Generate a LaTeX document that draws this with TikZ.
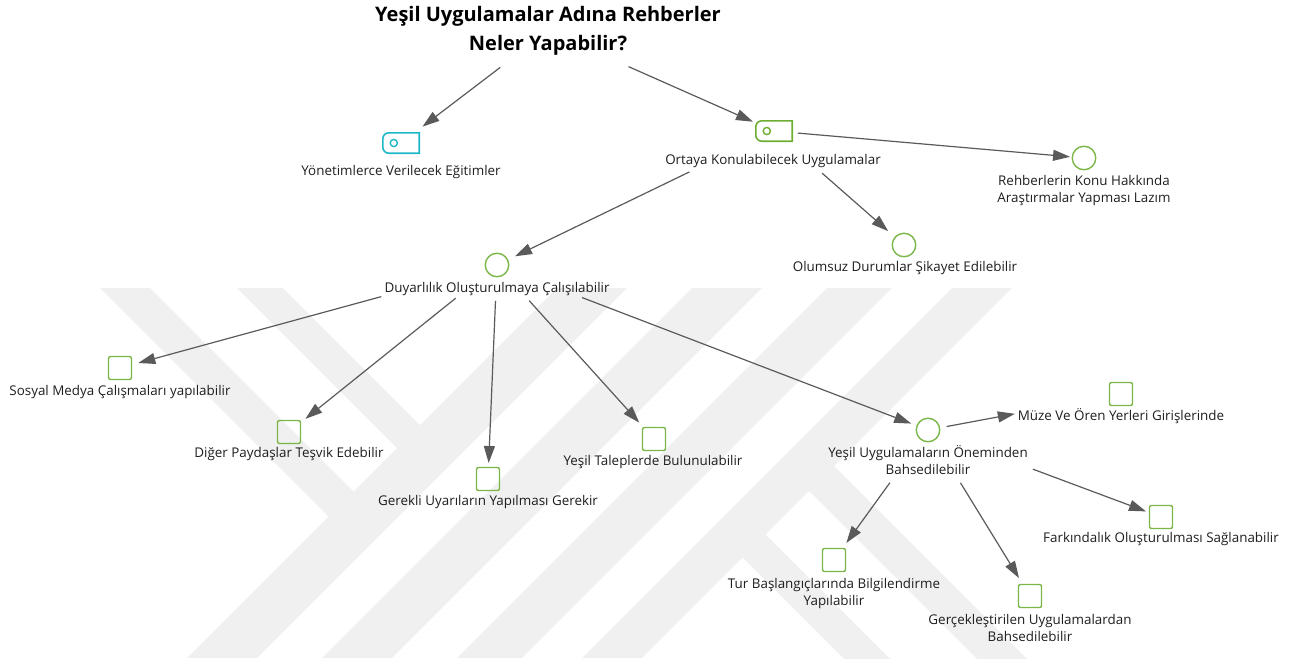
\documentclass[tikz,border=0pt]{standalone}
\usepackage{fontspec}
\setmainfont{Open Sans}
\usetikzlibrary{arrows.meta}
\definecolor{edgegrey}{HTML}{5A5A5A}
\definecolor{leafgreen}{HTML}{7AB648}
\definecolor{tagcyan}{HTML}{1DB7C7}
\definecolor{taggreen}{HTML}{6DAE33}
\definecolor{labeltext}{HTML}{1E1E1E}
\definecolor{wmgrey}{HTML}{F0F0F0}

\begin{document}
\begin{tikzpicture}[x=1pt,y=-1pt,
  lbl/.style={font=\fontsize{13.4}{17}\selectfont, align=center, inner sep=0pt, text=labeltext, anchor=base},
  heading/.style={font=\fontsize{20}{29}\selectfont\bfseries, align=center, inner sep=0pt, text=black},
  ring/.style={circle, draw=leafgreen, line width=1.4pt, minimum size=23.5pt, inner sep=0pt},
  leaf/.style={rectangle, rounded corners=2pt, draw=leafgreen, line width=1.4pt, minimum size=23pt, inner sep=0pt},
  tagbox/.style={rectangle, minimum width=36pt, minimum height=20pt, inner sep=0pt},
  arr/.style={draw=edgegrey, line width=1.2pt, -{Triangle[length=17pt,width=11pt]}},
]
\useasboundingbox (0,0) rectangle (1297,664);

% background emblem: diagonal bands
\begin{scope}
  \clip (0,288) rectangle (1297,658);
  \fill[wmgrey] (557,288) -- (627,288) -- (257,658) -- (187,658) -- cycle;
  \fill[wmgrey] (692,288) -- (762,288) -- (392,658) -- (322,658) -- cycle;
  \fill[wmgrey] (827,288) -- (892,288) -- (522,658) -- (457,658) -- cycle;
  \fill[wmgrey] (952,288) -- (1012,288) -- (642,658) -- (582,658) -- cycle;
  \fill[wmgrey] (100,288) -- (150,288) -- (371,509) -- (346,534) -- cycle;
  \fill[wmgrey] (237,288) -- (283,288) -- (437.5,442.5) -- (414.5,465.5) -- cycle;
  \fill[wmgrey] (1059,691) -- (1009,691) -- (788,470) -- (813,445) -- cycle;
  \fill[wmgrey] (922,691) -- (876,691) -- (721.5,536.5) -- (744.5,513.5) -- cycle;
\end{scope}

% title
\node[heading] (title) at (548,31) {Yeşil Uygulamalar Adına Rehberler\\Neler Yapabilir?};

% tag icons
\node[tagbox] (yonI) at (401,143) {};
\node[tagbox] (ortI) at (774,131) {};
\foreach \t/\c in {yonI/tagcyan, ortI/taggreen}{
  \draw[\c, line width=1.6pt] (\t.north east) [rounded corners=6pt] -- (\t.north west) -- (\t.south west) [sharp corners] -- (\t.south east) -- cycle;
  \draw[\c, line width=1.4pt] ([xshift=11pt]\t.west) circle[radius=3.6pt];
}

% ring icons
\node[ring] (rehI) at (1084,158) {};
\node[ring] (oluI) at (904,245) {};
\node[ring] (duyI) at (497,265) {};
\node[ring] (yuI)  at (928,430) {};

% square icons
\node[leaf] (sosI) at (120,368) {};
\node[leaf] (digI) at (289,432) {};
\node[leaf] (gerI) at (488,479) {};
\node[leaf] (talI) at (654,439) {};
\node[leaf] (muzI) at (1121,394) {};
\node[leaf] (turI) at (834,560) {};
\node[leaf] (gceI) at (1030,596) {};
\node[leaf] (farI) at (1161,517) {};

% labels (base = baseline of the last line)
\node[lbl] (yonL) at (401,175) {Yönetimlerce Verilecek Eğitimler};
\node[lbl] (ortL) at (773,164) {Ortaya Konulabilecek Uygulamalar};
\node[lbl] (rehL) at (1084,202) {Rehberlerin Konu Hakkında\\Araştırmalar Yapması Lazım};
\node[lbl] (oluL) at (905,271) {Olumsuz Durumlar Şikayet Edilebilir};
\node[lbl] (duyL) at (497,292) {Duyarlılık Oluşturulmaya Çalışılabilir};
\node[lbl] (sosL) at (120,395) {Sosyal Medya Çalışmaları yapılabilir};
\node[lbl] (digL) at (289,457) {Diğer Paydaşlar Teşvik Edebilir};
\node[lbl] (gerL) at (488,505) {Gerekli Uyarıların Yapılması Gerekir};
\node[lbl] (talL) at (653,465) {Yeşil Taleplerde Bulunulabilir};
\node[lbl] (yuL)  at (928,474) {Yeşil Uygulamaların Öneminden\\Bahsedilebilir};
\node[lbl] (muzL) at (1121,420) {Müze Ve Ören Yerleri Girişlerinde};
\node[lbl] (turL) at (834,605) {Tur Başlangıçlarında Bilgilendirme\\Yapılabilir};
\node[lbl] (gceL) at (1030,641) {Gerçekleştirilen Uygulamalardan\\Bahsedilebilir};
\node[lbl] (farL) at (1161,542) {Farkındalık Oluşturulması Sağlanabilir};

% connectors
\draw[arr, shorten <=60pt, shorten >=27pt] (title.center) -- (yonI.center);
\draw[arr, shorten <=88pt, shorten >=23pt] (title.center) -- (ortI.center);
\draw[arr, shorten <=24pt, shorten >=14pt] (ortI.center) -- (rehI.center);
\draw[arr, shorten <=64pt, shorten >=21pt] (ortI.center) -- (oluI.center);
\draw[arr, shorten <=94pt, shorten >=20pt] (ortI.center) -- (duyI.center);
\draw[arr, shorten <=120pt, shorten >=19pt] (duyI.center) -- (sosI.center);
\draw[arr, shorten <=53pt, shorten >=21pt] (duyI.center) -- (digI.center);
\draw[arr, shorten <=36pt, shorten >=16pt] (duyI.center) -- (gerI.center);
\draw[arr, shorten <=48pt, shorten >=22pt] (duyI.center) -- (talI.center);
\draw[arr, shorten <=91pt, shorten >=18pt] (duyI.center) -- (yuI.center);
\draw[arr, shorten <=19pt, shorten >=108pt] (yuI.center) -- (muzI.center);
\draw[arr, shorten <=65pt, shorten >=21pt] (yuI.center) -- (turI.center);
\draw[arr, shorten <=62pt, shorten >=21pt] (yuI.center) -- (gceI.center);
\draw[arr, shorten <=112pt, shorten >=16pt] (yuI.center) -- (farI.center);
\end{tikzpicture}
\end{document}
